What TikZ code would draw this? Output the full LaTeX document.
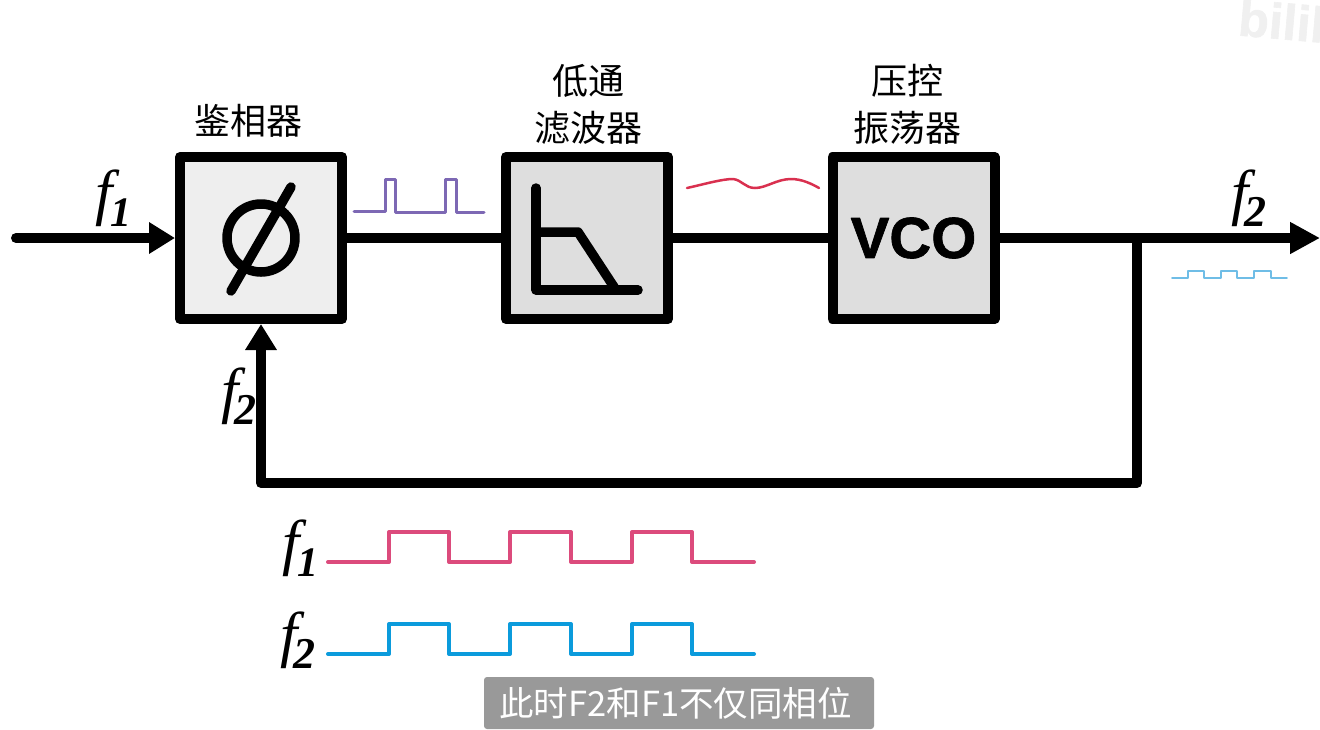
\documentclass[tikz,border=0pt]{standalone}
\usepackage{fontspec}
\setmainfont{Liberation Serif}
\newfontfamily\cjk{Noto Sans CJK SC}
\newfontfamily\sansbase{Liberation Sans}[BoldFeatures={FakeBold=1.2}]
\newcommand{\sansb}{\sansbase\bfseries}
\usetikzlibrary{arrows.meta}
\definecolor{boxa}{HTML}{EEEEEE}
\definecolor{boxb}{HTML}{DEDEDE}
\definecolor{pinkw}{HTML}{DC4B7C}
\definecolor{bluew}{HTML}{0B9BDC}
\definecolor{purplew}{HTML}{7D68B4}
\definecolor{redw}{HTML}{D9304F}
\definecolor{cyanw}{HTML}{6FBDE6}
\definecolor{subbg}{HTML}{999999}
\definecolor{wm}{HTML}{F0F0F0}
\newcommand{\fa}{{\fontsize{62}{62}\selectfont\itshape f\kern-2pt\raisebox{-13pt}{\fontsize{42}{42}\selectfont\bfseries 1}}}
\newcommand{\fb}{{\fontsize{62}{62}\selectfont\itshape f\kern-4pt\raisebox{-13pt}{\fontsize{44}{44}\selectfont\bfseries 2}}}
\tikzset{
  x=1pt,y=-1pt,
  block/.style={draw=black,line width=10pt,minimum width=162pt,minimum height=162pt,inner sep=0pt,line join=round},
  captext/.style={font=\cjk\fontsize{36}{47}\selectfont,align=center,inner sep=0pt},
  wire/.style={draw=black,line width=10pt,line cap=round,line join=round},
  arrowed/.style={wire,-{Triangle[length=26pt,width=30pt]}},
  arrowedlong/.style={wire,-{Triangle[length=30pt,width=30pt]}},
  icon/.style={draw=black,line width=9.5pt,line cap=round,line join=round},
  lab/.style={inner sep=0pt,anchor=base west},
  wave/.style={line join=round,line cap=round}
}
\begin{document}
\begin{tikzpicture}
\useasboundingbox (0,0) rectangle (1320,729);
% watermark
\begin{scope}
\clip (0,0) rectangle (1320,729);
\node[inner sep=0pt,rotate=-5,text=wm,font=\sansb\fontsize{50}{50}\selectfont] (mark) at (1290,22) {bilib};
\end{scope}
% blocks
\node[block,fill=boxa] (pd) at (261,238) {};
\node[block,fill=boxb] (lpf) at (587,238) {};
\node[block,fill=boxb,font=\sansb\fontsize{58}{58}\selectfont] (vco) at (913.5,238) {VCO};
% captions
\node[captext] (cpd) at (248,121) {鉴相器};
\node[captext] (clpf) at (588,104) {低通\\滤波器};
\node[captext] (cvco) at (907,104) {压控\\振荡器};
% connectors
\coordinate (in) at (16,238);
\coordinate (out) at (1320,238);
\coordinate (j) at (1137,238);
\coordinate (c) at (1137,483);
\draw[arrowed] (in) -- (pd.west);
\draw[wire] (pd.east) -- (lpf.west);
\draw[wire] (lpf.east) -- (vco.west);
\draw[arrowedlong] (vco.east) -- (out);
\draw[arrowed] (j) -- (c) -| (pd.south);
% phase icon
\draw[icon] (261,238) circle (34);
\draw[icon] (291,187) -- (231,291);
% filter icon
\draw[icon] (536,188) -- (536,290) -- (638,290);
\draw[icon] (536,232) -- (578,232) -- (616,290);
% labels
\node[lab] (l1) at (95,213) {\fa};
\node[lab] (l2) at (1231,213) {\fb};
\node[lab] (l3) at (221,411) {\fb};
\node[lab] (l4) at (282,563) {\fa};
\node[lab] (l5) at (280,655) {\fb};
% small waves
\draw[wave,purplew,line width=3pt] (354,211) -- (385,211) -- (385,179) -- (395,179) -- (395,212) -- (445,212) -- (445,179) -- (456,179) -- (456,212) -- (484,212);
\draw[wave,redw,line width=2.5pt] (687,188) .. controls (705,184) and (722,179) .. (733,179) .. controls (742,180) and (745,188) .. (755,188) .. controls (766,188) and (777,179) .. (791,179) .. controls (802,179) and (812,184) .. (819,188);
\draw[wave,cyanw,line width=1.6pt] (1172,278) -- (1188,278) -- (1188,271) -- (1204,271) -- (1204,278) -- (1221,278) -- (1221,271) -- (1237,271) -- (1237,278) -- (1254,278) -- (1254,271) -- (1271,271) -- (1271,278) -- (1287,278);
% large waves
\draw[wave,pinkw,line width=4pt] (328,562) -- (389,562) -- (389,532) -- (449,532) -- (449,562) -- (510,562) -- (510,532) -- (571,532) -- (571,562) -- (632,562) -- (632,532) -- (692,532) -- (692,562) -- (754,562);
\draw[wave,bluew,line width=4pt] (328,654) -- (389,654) -- (389,624) -- (449,624) -- (449,654) -- (510,654) -- (510,624) -- (571,624) -- (571,654) -- (632,654) -- (632,624) -- (692,624) -- (692,654) -- (754,654);
% subtitle
\node[fill=subbg,text=white,rounded corners=3pt,minimum width=390pt,minimum height=52pt,inner sep=0pt,font=\cjk\fontsize{34.5}{35}\selectfont] (sub) at (679,703) {\hspace*{-7pt}此时F2和F1不仅同相位};
\end{tikzpicture}
\end{document}
